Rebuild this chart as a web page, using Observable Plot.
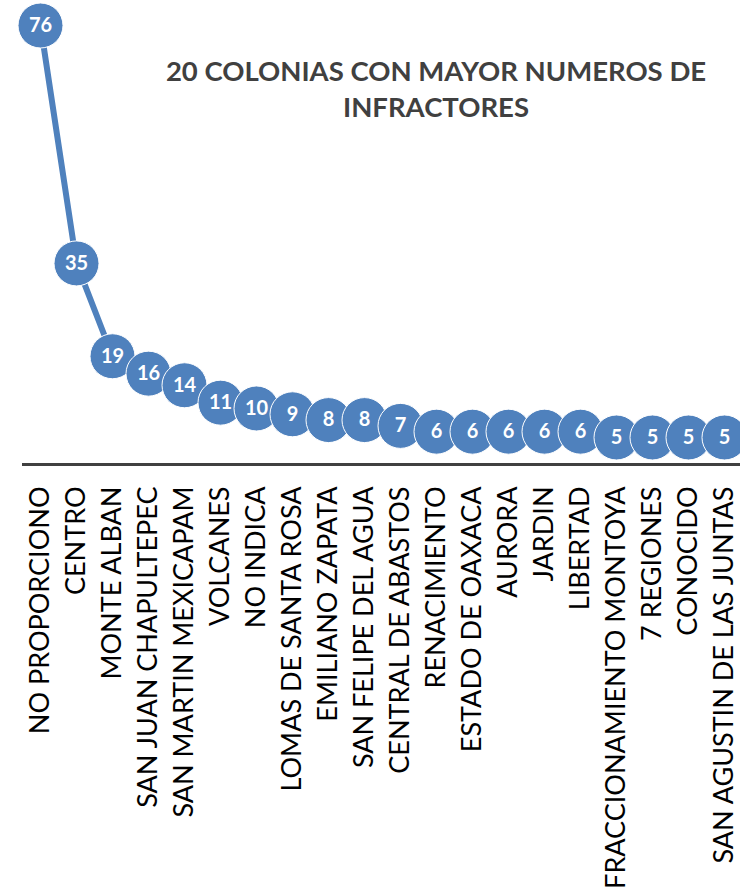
<!DOCTYPE html>
<html>
<head>
<meta charset="utf-8">
<script src="https://cdn.jsdelivr.net/npm/d3@7"></script>
<script src="https://cdn.jsdelivr.net/npm/@observablehq/plot@0.6"></script>
<style>
  html, body { margin: 0; padding: 0; background: #fff; }
  #wrap { position: relative; width: 740px; height: 889px; overflow: hidden; }
  #title { position: absolute; left: 130px; width: 612px; top: 53px; text-align: center;
    font-family: Lato, "Open Sans", sans-serif; font-weight: bold; font-size: 27.5px; line-height: 36px; color: #404040; white-space: nowrap; }
  svg { position: absolute; left: 0; top: 0; }
</style>
</head>
<body>
<div id="wrap">
<div id="title">20 COLONIAS CON MAYOR NUMEROS DE<br>INFRACTORES</div>
</div>
<script>
const colonias = ["NO PROPORCIONO","CENTRO","MONTE ALBAN","SAN JUAN CHAPULTEPEC","SAN MARTIN MEXICAPAM","VOLCANES","NO INDICA","LOMAS DE SANTA ROSA","EMILIANO ZAPATA","SAN FELIPE DEL AGUA","CENTRAL DE ABASTOS","RENACIMIENTO","ESTADO DE OAXACA","AURORA","JARDIN","LIBERTAD","FRACCIONAMIENTO MONTOYA","7 REGIONES","CONOCIDO","SAN AGUSTIN DE LAS JUNTAS"];
const infractores = [76,35,19,16,14,11,10,9,8,8,7,6,6,6,6,6,5,5,5,5];

const data = colonias.map((c, i) => ({colonia: c, n: infractores[i]}));
const blue = "#4F81BD";

const chart = Plot.plot({
  width: 740, height: 889,
  marginLeft: 40, marginRight: 16, marginTop: 25, marginBottom: 423,
  style: {fontFamily: "Lato, 'Open Sans', sans-serif", background: "transparent"},
  x: {type: "point", domain: colonias, padding: 0, round: false},
  y: {domain: [0, 76], axis: null},
  marks: [
    Plot.ruleY([0], {stroke: "#404040", strokeWidth: 3, dy: -2, insetLeft: -18, insetRight: -20}),
    Plot.axisX({tickRotate: -90, tickSize: 0, tickPadding: 20, fontSize: 27, fill: "#000", label: null}),
    Plot.line(data, {x: "colonia", y: "n", stroke: blue, strokeWidth: 6}),
    Plot.dot(data, {x: "colonia", y: "n", r: 22.5, fill: blue, stroke: "#fff", strokeWidth: 1}),
    Plot.text(data, {x: "colonia", y: "n", text: d => String(d.n), fill: "#fff", fontWeight: "bold", fontSize: 20})
  ]
});
document.getElementById("wrap").prepend(chart);
</script>
</body>
</html>
